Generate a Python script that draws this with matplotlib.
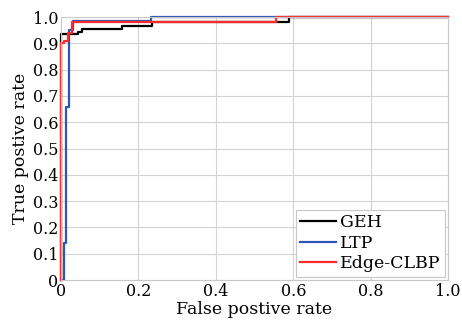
import numpy as np
import matplotlib
matplotlib.use('Agg')
import matplotlib.pyplot as plt

plt.rcParams['font.family'] = ['DejaVu Serif']

# ROC vertices (steps-post)
geh_fpr = [0, 0, 0.045, 0.053, 0.157, 0.235, 0.59, 1.0]
geh_tpr = [0, 0.935, 0.945, 0.955, 0.967, 0.983, 1.0, 1.0]

ltp_fpr = [0, 0.0085, 0.014, 0.02, 0.032, 0.232, 1.0]
ltp_tpr = [0, 0.14, 0.66, 0.95, 0.985, 1.0, 1.0]

clbp_fpr = [0, 0, 0.0085, 0.017, 0.029, 0.556, 1.0]
clbp_tpr = [0, 0.90, 0.91, 0.938, 0.983, 1.0, 1.0]

labels = ['GEH', 'LTP', 'Edge-CLBP']
colors = ['black', '#2a56b8', '#ff2a2a']

xticks = [0, 0.2, 0.4, 0.6, 0.8, 1.0]
xticklabels = ['0', '0.2', '0.4', '0.6', '0.8', '1.0']
yticks = np.round(np.arange(0, 1.01, 0.1), 1)
yticklabels = ['0'] + ['%.1f' % v for v in yticks[1:]]

fig = plt.figure(figsize=(4.62, 3.23), dpi=100)
ax = fig.add_axes([0.132, 0.133, 0.838, 0.814])

for fpr, tpr, lab, c in zip([geh_fpr, ltp_fpr, clbp_fpr],
                            [geh_tpr, ltp_tpr, clbp_tpr], labels, colors):
    ax.plot(fpr, tpr, drawstyle='steps-post', color=c, lw=1.6, label=lab,
            clip_on=False)

ax.set_xlim(0, 1)
ax.set_ylim(0, 1)
ax.set_xticks(xticks)
ax.set_xticklabels(xticklabels)
ax.set_yticks(yticks)
ax.set_yticklabels(yticklabels)
ax.tick_params(length=0, labelsize=11.5, pad=2)
ax.grid(True, color='#d3d3d3', lw=0.8)
for s in ax.spines.values():
    s.set_color('#c8c8c8')

ax.set_xlabel('False postive rate', fontsize=12.5, labelpad=1)
ax.set_ylabel('True postive rate', fontsize=12.5, labelpad=3)

leg = ax.legend(loc='lower right', fontsize=12.5, handlelength=2.1,
                handletextpad=0.2, labelspacing=0.2, borderpad=0.25,
                borderaxespad=0.2, fancybox=False, framealpha=1)
leg.get_frame().set_edgecolor('#c8c8c8')
leg.get_frame().set_linewidth(0.8)

fig.savefig('out.png', dpi=100)
